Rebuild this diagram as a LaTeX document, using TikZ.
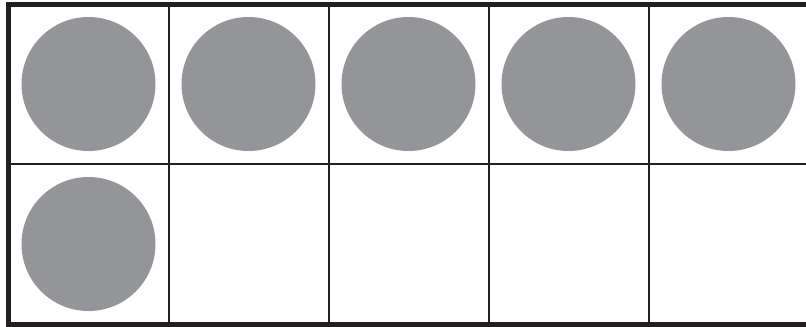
\documentclass[tikz,border=0pt]{standalone}
\usepackage{tikz}
\usetikzlibrary{positioning}
\definecolor{counterfill}{HTML}{939598}
\definecolor{framedraw}{HTML}{231F20}

\begin{document}
\begin{tikzpicture}[x=0.75pt, y=-0.75pt,
  cell/.style={draw=framedraw, line width=1.5pt, minimum size=120pt, inner sep=0pt, outer sep=0pt},
  counter/.style={circle, fill=counterfill, minimum size=100.5pt, inner sep=0pt}]
\useasboundingbox (0,0) rectangle (806,326);
\foreach \r in {0,1}
  \foreach \c in {0,...,4}
    \node[cell] (c\r\c) at (88.5+160*\c, 84+160*\r) {};

\draw[framedraw, line width=3.75pt] (c00.north west) rectangle (c14.south east);

\foreach \c in {0,...,4}
  \node[counter] (k0\c) at (c0\c) {};
\node[counter] (k10) at (c10) {};
\end{tikzpicture}
\end{document}
